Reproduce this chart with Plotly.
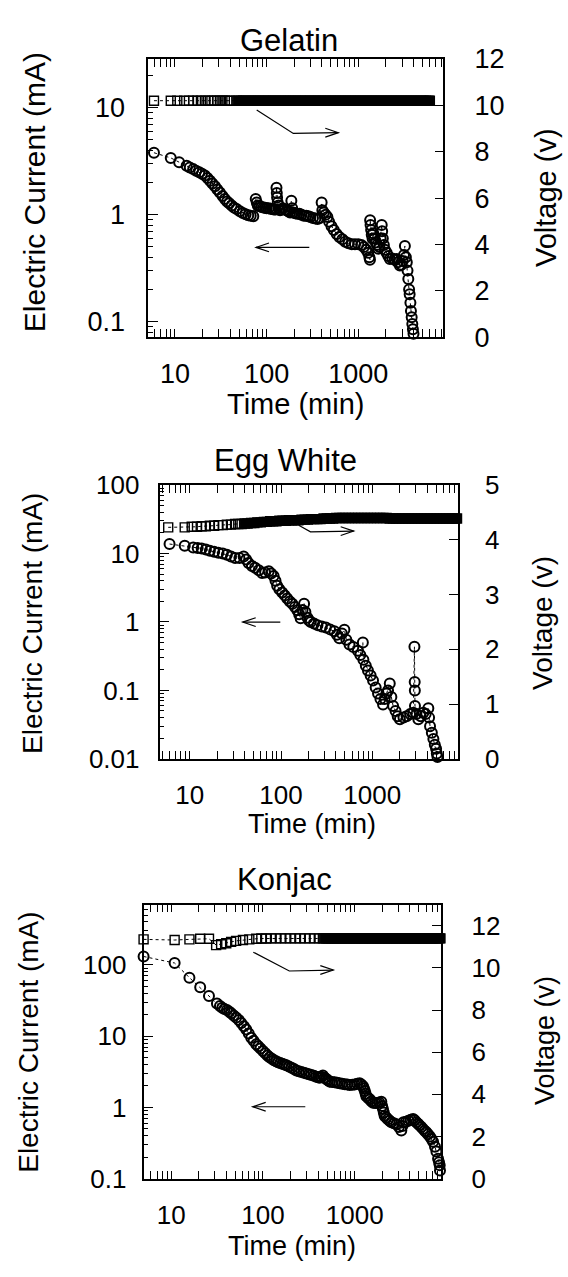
import math
import plotly.graph_objects as go

W, H = 568, 1277
FONT = "Liberation Sans, Arial, Helvetica, sans-serif"

# ---------------- data : Gelatin ----------------
gel_time_I = [5.9, 9.0, 11.1, 13.4, 14.5, 15.8, 17, 18.4, 19.7, 21.2, 22.6, 24.1, 25.6, 27.3, 29, 30.9,
              33, 35, 37, 39, 41.5, 44, 47, 51, 55, 59, 63, 67, 71.5, 76, 78, 80, 84, 88, 92, 96, 100,
              105, 110, 115, 120, 125, 128, 129, 130, 132, 135, 140, 145, 150, 158, 165, 172, 180, 186,
              190, 195, 205, 215, 228, 240, 255, 270, 285, 300, 320, 340, 360, 380, 398, 405, 420, 440,
              460, 480, 510, 540, 580, 620, 670, 720, 780, 850, 920, 1000, 1080, 1150, 1220, 1280, 1320,
              1340, 1345, 1360, 1380, 1400, 1430, 1455, 1500, 1550, 1600, 1650, 1700, 1750, 1800, 1820,
              1850, 1900, 1950, 2040, 2120, 2210, 2350, 2500, 2620, 2700, 2840, 2950, 3050, 3150, 3220,
              3300, 3380, 3440, 3510, 3580, 3630, 3700, 3750, 3820, 3880, 3940, 4000]
gel_current = [3.8, 3.4, 3.1, 2.87, 2.77, 2.67, 2.58, 2.5, 2.42, 2.33, 2.2, 2.08, 1.96, 1.85, 1.72, 1.61,
               1.5, 1.4, 1.33, 1.28, 1.22, 1.17, 1.13, 1.08, 1.04, 1.01, 0.99, 0.98, 0.97, 1.4, 1.3, 1.22,
               1.2, 1.18, 1.17, 1.16, 1.15, 1.15, 1.14, 1.13, 1.12, 1.12, 1.79, 1.6, 1.45, 1.3, 1.22, 1.1,
               1.12, 1.15, 1.12, 1.1, 1.08, 1.05, 1.35, 1.15, 1.05, 1.03, 1.02, 1.02, 1.0, 0.98, 0.98,
               0.97, 0.95, 0.93, 0.92, 0.91, 0.93, 1.3, 1.1, 1.05, 1.0, 0.95, 0.86, 0.78, 0.72, 0.66,
               0.62, 0.59, 0.56, 0.54, 0.53, 0.53, 0.53, 0.52, 0.5, 0.47, 0.44, 0.4, 0.38, 0.89, 0.8,
               0.72, 0.65, 0.6, 0.67, 0.6, 0.55, 0.52, 0.48, 0.5, 0.6, 0.8, 0.7, 0.6, 0.52, 0.47, 0.44,
               0.41, 0.385, 0.39, 0.38, 0.385, 0.36, 0.335, 0.34, 0.37, 0.42, 0.51, 0.4, 0.36, 0.3, 0.25,
               0.2, 0.18, 0.15, 0.126, 0.11, 0.095, 0.085, 0.077]
gel_time_V = [5.9, 9.0, 10.6, 12.6, 14.2, 15.8, 17.6, 19.2, 21.2, 23, 25, 27, 29, 30.9, 32.9, 35, 37.4,
              39.9, 47, 49, 52, 55.5, 59, 63, 67, 71.5, 76, 81, 86, 92, 98, 104, 111, 118, 126, 134, 143,
              152, 162, 172, 183, 195, 208, 221, 236, 251, 267, 285, 303, 323, 344, 366, 390, 415, 442,
              471, 502, 534, 569, 606, 645, 687, 732, 779, 830, 884, 941, 1002, 1067, 1137, 1211, 1289,
              1373, 1462, 1557, 1658, 1766, 1881, 2003, 2133, 2272, 2419, 2576, 2744, 2922, 3112, 3314,
              3529, 3758, 4003, 4263, 4540, 4835, 5149, 5484, 5840, 6030]
gel_voltage = [10.2, 10.2, 10.2, 10.2, 10.2, 10.2, 10.2, 10.2, 10.2, 10.2,
               10.2, 10.2, 10.2, 10.2, 10.2, 10.2, 10.2, 10.2, 10.2, 10.2,
               10.2, 10.2, 10.2, 10.2, 10.2, 10.2, 10.2, 10.2, 10.2, 10.2,
               10.2, 10.2, 10.2, 10.2, 10.2, 10.2, 10.2, 10.2, 10.2, 10.2,
               10.2, 10.2, 10.2, 10.2, 10.2, 10.2, 10.2, 10.2, 10.2, 10.2,
               10.2, 10.2, 10.2, 10.2, 10.2, 10.2, 10.2, 10.2, 10.2, 10.2,
               10.2, 10.2, 10.2, 10.2, 10.2, 10.2, 10.2, 10.2, 10.2, 10.2,
               10.2, 10.2, 10.2, 10.2, 10.2, 10.2, 10.2, 10.2, 10.2, 10.2,
               10.2, 10.2, 10.2, 10.2, 10.2, 10.2, 10.2, 10.2, 10.2, 10.2,
               10.2, 10.2, 10.2, 10.2, 10.2, 10.2, 10.2]

# ---------------- data : Egg White ----------------
egg_time_I = [6.0, 8.8, 10.9, 12.2, 13.5, 15, 16.6, 18.5, 20.6, 23, 25.5, 28.3, 31.4, 35, 38.9, 41.5,
              44, 48, 52, 57, 62, 67, 73.4, 78, 83, 87, 90.7, 96, 103, 110, 117, 125, 133, 142, 151,
              158, 164, 172, 179, 185, 195, 203, 212, 230, 251, 280, 310, 345, 384, 410, 436, 465, 495,
              520, 563, 620, 695, 740, 789, 800, 850, 897, 960, 1020, 1090, 1157, 1230, 1313, 1370,
              1429, 1490, 1556, 1620, 1694, 1800, 1900, 2010, 2200, 2380, 2600, 2820, 2900, 2920, 2930,
              2940, 3050, 3200, 3400, 3630, 3850, 4120, 4200, 4300, 4500, 4680, 4850, 5010, 5100, 5190]
egg_current = [13.8, 13.0, 12.3, 12.1, 11.9, 11.5, 11.0, 10.6, 10.3, 10.0, 9.6, 9.1, 8.6, 8.6, 9.1, 8.2,
               7.3, 6.6, 6.2, 5.7, 5.2, 5.3, 5.5, 5.1, 4.7, 4.0, 3.4, 3.0, 2.7, 2.45, 2.2, 2.0, 1.85,
               1.65, 1.48, 1.3, 1.13, 1.5, 1.85, 1.4, 1.15, 1.05, 1.0, 0.95, 0.9, 0.86, 0.83, 0.78, 0.73,
               0.65, 0.58, 0.68, 0.77, 0.55, 0.47, 0.43, 0.38, 0.33, 0.5, 0.28, 0.23, 0.195, 0.165, 0.14,
               0.11, 0.09, 0.075, 0.062, 0.075, 0.09, 0.1, 0.126, 0.08, 0.059, 0.05, 0.042, 0.038, 0.04,
               0.042, 0.045, 0.047, 0.435, 0.133, 0.1, 0.059, 0.045, 0.038, 0.042, 0.047, 0.045, 0.055,
               0.04, 0.03, 0.024, 0.0195, 0.016, 0.014, 0.012, 0.0106]
egg_time_V = [5.8, 8.8, 10.5, 12, 13.5, 15, 16.6, 18.5, 20.6, 23, 25.5, 28.3, 31.4, 34, 37, 40, 43, 47,
              51, 55, 60, 65, 70, 76, 82, 89, 96, 104, 113, 122, 132, 143, 155, 168, 182, 197, 213, 231,
              250, 271, 293, 317, 343, 372, 403, 436, 472, 511, 553, 599, 648, 702, 760, 823, 891, 965,
              1045, 1131, 1225, 1326, 1436, 1555, 1683, 1822, 1973, 2136, 2313, 2504, 2711, 2935, 3178,
              3441, 3725, 4033, 4367, 4728, 5119, 5542, 6000, 6500, 7040, 7620, 8100, 8500]
egg_voltage = [4.23, 4.23, 4.24, 4.24, 4.25, 4.25, 4.26, 4.26, 4.27, 4.27, 4.28, 4.28, 4.29, 4.29, 4.29, 4.30,
               4.30, 4.31, 4.31, 4.32, 4.32, 4.33, 4.33, 4.34, 4.34, 4.34, 4.35, 4.35, 4.35, 4.36, 4.36, 4.36,
               4.36, 4.37, 4.37, 4.37, 4.38, 4.38, 4.38, 4.38, 4.39, 4.39, 4.39, 4.39, 4.40, 4.40, 4.40, 4.40,
               4.40, 4.40, 4.40,
               4.40, 4.40, 4.40, 4.40, 4.40, 4.40, 4.40, 4.40, 4.40, 4.40,
               4.39, 4.39, 4.39, 4.39, 4.39, 4.39, 4.39, 4.39, 4.39, 4.39, 4.39, 4.39,
               4.39, 4.39, 4.39, 4.39, 4.39, 4.39, 4.39, 4.39, 4.39, 4.39, 4.39]

# ---------------- data : Konjac ----------------
kon_time_I = [5.0, 10.9, 15.8, 20.7, 25.8, 31.5, 34, 36, 38, 40.5, 43, 45, 48, 51, 54.5, 58, 62, 65.8,
              70, 74.5, 79, 84.5, 89, 94, 100, 106, 112, 118, 125, 132, 139, 146, 154, 162, 171, 180,
              192, 205, 218, 231, 246, 262, 279, 297, 317, 337, 359, 381, 400, 415, 432, 450, 470, 490,
              511, 532, 567, 605, 643, 684, 730, 780, 830, 880, 940, 1000, 1065, 1132, 1180, 1232, 1260,
              1290, 1315, 1340, 1400, 1460, 1520, 1585, 1670, 1760, 1850, 1950, 1990, 2030, 2075, 2120,
              2210, 2300, 2400, 2510, 2670, 2850, 3030, 3220, 3310, 3400, 3620, 3850, 4080, 4330, 4500,
              4700, 4900, 5100, 5320, 5550, 5790, 6040, 6300, 6600, 6870, 7150, 7500, 7770, 8100, 8300,
              8440, 8500]
kon_current = [131, 106, 66, 48.4, 36.5, 28.6, 26.5, 25, 24, 23.2, 22, 20.9, 19.5, 18.2, 16.8, 15.3, 13.8,
               12.4, 10.9, 9.5, 8.6, 7.7, 7.2, 6.7, 6.2, 5.75, 5.35, 5.06, 4.8, 4.6, 4.45, 4.3, 4.2, 4.1,
               4.0, 3.9, 3.75, 3.6, 3.45, 3.3, 3.22, 3.15, 3.07, 3.0, 2.92, 2.85, 2.77, 2.7, 2.65, 2.6,
               2.7, 2.8, 2.6, 2.5, 2.4, 2.3, 2.27, 2.25, 2.22, 2.18, 2.15, 2.12, 2.09, 2.07, 2.08, 2.1,
               2.14, 2.18, 2.1, 1.98, 1.85, 1.7, 1.55, 1.43, 1.36, 1.3, 1.22, 1.16, 1.15, 1.15, 1.17, 1.2,
               1.05, 0.95, 0.85, 0.76, 0.72, 0.68, 0.65, 0.62, 0.6, 0.58, 0.53, 0.475, 0.55, 0.62, 0.63,
               0.65, 0.67, 0.69, 0.66, 0.62, 0.59, 0.56, 0.53, 0.5, 0.47, 0.45, 0.42, 0.39, 0.36, 0.33,
               0.28, 0.24, 0.19, 0.17, 0.155, 0.13]
kon_time_V = [5.0, 10.9, 15.8, 20.7, 25.8, 30.9, 35, 39.8, 45, 51, 60.5, 71, 84.5, 96, 108, 122, 138,
              156, 176, 199, 225, 254, 287, 324, 366, 414, 450,
              470, 490, 510, 530, 552, 575, 598, 622, 648, 674, 702,
              730, 760, 791, 823, 857, 892, 928, 966, 1005, 1046, 1089, 1133, 1180, 1228, 1278, 1330,
              1384, 1441, 1500, 1561, 1625, 1691, 1760, 1832, 1907, 1985, 2066, 2150, 2238, 2330, 2425,
              2524, 2627, 2734, 2846, 2962, 3083, 3209, 3340, 3476, 3618, 3766, 3920, 4080, 4247, 4420,
              4601, 4789, 4984, 5188, 5400, 5620, 5850, 6089, 6338, 6597, 6866, 7147, 7439, 7742, 8058,
              8387, 8600]
kon_voltage = [11.35, 11.32, 11.35, 11.38, 11.38, 11.08, 11.12, 11.17, 11.23, 11.28, 11.32, 11.35, 11.38,
               11.39, 11.39,
               11.4, 11.4, 11.4, 11.4, 11.4, 11.4, 11.4, 11.4, 11.4, 11.4, 11.4, 11.4,
               11.4, 11.4, 11.4, 11.4, 11.4, 11.4, 11.4, 11.4, 11.4, 11.4,
               11.4, 11.4, 11.4, 11.4, 11.4, 11.4, 11.4, 11.4, 11.4, 11.4,
               11.4, 11.4, 11.4, 11.4, 11.4, 11.4, 11.4, 11.4, 11.4, 11.4,
               11.4, 11.4, 11.4, 11.4, 11.4, 11.4, 11.4, 11.4, 11.4, 11.4,
               11.4, 11.4, 11.4, 11.4, 11.4, 11.4, 11.4, 11.4, 11.4, 11.4,
               11.4, 11.4, 11.4, 11.4, 11.4, 11.4, 11.4, 11.4, 11.4, 11.4,
               11.4, 11.4, 11.4, 11.4, 11.4, 11.4, 11.4, 11.4, 11.4, 11.4,
               11.4, 11.4, 11.4, 11.4]

# ---------------- tick labels ----------------
time_ticks = [10, 100, 1000]
gel_I_ticks = [0.1, 1, 10]
gel_V_ticks = [0, 2, 4, 6, 8, 10, 12]
egg_I_ticks = [0.01, 0.1, 1, 10, 100]
egg_V_ticks = [0, 1, 2, 3, 4, 5]
kon_I_ticks = [0.1, 1, 10, 100]
kon_V_ticks = [0, 2, 4, 6, 8, 10, 12]

titles = ["Gelatin", "Egg White", "Konjac"]

# ---------------- layout geometry (pixels) ----------------
panels = [
    dict(name=titles[0], t_I=gel_time_I, I=gel_current, t_V=gel_time_V, V=gel_voltage,
         Iticks=gel_I_ticks, Vticks=gel_V_ticks, solid_from=48,
         box=(148.3, 443.3, 45.0, 330.0), xr=(0.709, 3.927), yl=(-1.146, 1.457), yr=(0, 12),
         fs_tick=27, fs_title=31, fs_ax=30, fs_v=29,
         title_xy=(289, 26), ylab_xy=(34.4, 181), vlab_xy=(546, 187.5), xlab_xy=(295, 398),
         so_l=16, so_r=24, so_b=12,
         arrowR=[(256.7, 97.3), (293.3, 121.3), (338.3, 120.5)],
         arrowL=[(309.3, 238), (256, 238)]),
    dict(name=titles[1], t_I=egg_time_I, I=egg_current, t_V=egg_time_V, V=egg_voltage,
         Iticks=egg_I_ticks, Vticks=egg_V_ticks, solid_from=39,
         box=(159.5, 458.0, 481.5, 761.7), xr=(0.668, 3.94), yl=(-2, 2), yr=(0, 5),
         fs_tick=26, fs_title=31, fs_ax=28, fs_v=28,
         title_xy=(285, 456), ylab_xy=(32.6, 623), vlab_xy=(543, 622.5), xlab_xy=(312, 828),
         so_l=13, so_r=20, so_b=12,
         arrowR=[(298.7, 522.5), (310.5, 529.3), (353.7, 528.5)],
         arrowL=[(280.3, 621.7), (242.7, 621.7)]),
    dict(name=titles[2], t_I=kon_time_I, I=kon_current, t_V=kon_time_V, V=kon_voltage,
         Iticks=kon_I_ticks, Vticks=kon_V_ticks, solid_from=465,
         box=(143.5, 440.5, 911.0, 1191.7), xr=(0.698, 3.935), yl=(-1, 2.845), yr=(0, 13),
         fs_tick=26, fs_title=31, fs_ax=28, fs_v=27,
         title_xy=(284, 885), ylab_xy=(29, 1052.5), vlab_xy=(545, 1050.8), xlab_xy=(292, 1261),
         so_l=10, so_r=24, so_b=12,
         arrowR=[(253.3, 959.7), (289.3, 979), (333.3, 978)],
         arrowL=[(305.3, 1118), (252.7, 1118)]),
]


def fx(x):
    return x / W


def fy(y):
    return 1 - y / H


def minor_vals(lo, hi):
    out = []
    for e in range(int(math.floor(lo)) - 1, int(math.ceil(hi)) + 1):
        for m in range(2, 10):
            v = m * 10.0 ** e
            if lo <= math.log10(v) <= hi:
                out.append(v)
    return out


def fmt(v):
    return "%g" % v


fig = go.Figure()
layout = dict(width=W, height=H, margin=dict(l=0, r=0, t=0, b=0),
              paper_bgcolor="white", plot_bgcolor="white", showlegend=False,
              font=dict(family=FONT, color="black"))
annotations = []
shapes = []
LW = 1.2

for i, p in enumerate(panels):
    n = i + 1
    xa = "xaxis" if n == 1 else "xaxis%d" % n
    xs = "x" if n == 1 else "x%d" % n
    yl_id = 2 * n - 1
    yr_id = 2 * n
    yla = "yaxis" if yl_id == 1 else "yaxis%d" % yl_id
    yls = "y" if yl_id == 1 else "y%d" % yl_id
    yra = "yaxis%d" % yr_id
    yrs = "y%d" % yr_id
    x0, x1, y0, y1 = p["box"]
    xdom = [fx(x0), fx(x1)]
    ydom = [fy(y1), fy(y0)]
    tf = dict(family=FONT, size=p["fs_tick"], color="black")

    layout[xa] = dict(type="log", domain=xdom, range=list(p["xr"]), anchor=yls,
                      tickmode="array", tickvals=time_ticks, ticktext=[fmt(v) for v in time_ticks],
                      ticks="inside", ticklen=8, tickwidth=1.3, tickcolor="black",
                      minor=dict(tickmode="array", tickvals=minor_vals(*p["xr"]), ticks="inside",
                                 ticklen=4, tickwidth=1.1, tickcolor="black", showgrid=False),
                      showline=True, linecolor="black", linewidth=1.6, mirror="allticks",
                      showgrid=False, zeroline=False, tickfont=tf, ticklabelstandoff=p["so_b"])
    layout[yla] = dict(type="log", domain=ydom, range=list(p["yl"]), anchor=xs,
                       tickmode="array", tickvals=p["Iticks"], ticktext=[fmt(v) for v in p["Iticks"]],
                       ticks="inside", ticklen=10, tickwidth=1.3, tickcolor="black",
                       minor=dict(tickmode="array", tickvals=minor_vals(*p["yl"]), ticks="inside",
                                  ticklen=5, tickwidth=1.1, tickcolor="black", showgrid=False),
                       showline=True, linecolor="black", linewidth=1.6, mirror=False,
                       showgrid=False, zeroline=False, tickfont=tf, ticklabelstandoff=p["so_l"])
    layout[yra] = dict(domain=ydom, range=list(p["yr"]), anchor=xs, overlaying=yls, side="right",
                       tickmode="array", tickvals=p["Vticks"], ticktext=[fmt(v) for v in p["Vticks"]],
                       ticks="inside", ticklen=9, tickwidth=1.3, tickcolor="black",
                       showline=True, linecolor="black", linewidth=1.6,
                       showgrid=False, zeroline=False, tickfont=tf, ticklabelstandoff=p["so_r"])

    # where the logged voltage points crowd into a solid band, draw them filled
    sq_symbols = ["square" if t >= p["solid_from"] else "square-open" for t in p["t_V"]]
    fig.add_trace(go.Scatter(x=p["t_V"], y=p["V"], xaxis=xs, yaxis=yrs, mode="lines+markers",
                             line=dict(color="black", width=1, dash="dot"),
                             marker=dict(symbol=sq_symbols, size=9, color="black",
                                         line=dict(width=1.4, color="black")),
                             cliponaxis=False, name=p["name"] + " voltage"))
    fig.add_trace(go.Scatter(x=p["t_I"], y=p["I"], xaxis=xs, yaxis=yls, mode="lines+markers",
                             line=dict(color="black", width=1, dash="dot"),
                             marker=dict(symbol="circle-open", size=10, color="black",
                                         line=dict(width=2.0)),
                             cliponaxis=False, name=p["name"] + " current"))

    # texts
    tx, ty = p["title_xy"]
    annotations.append(dict(text=p["name"], x=fx(tx), y=fy(ty), xref="paper", yref="paper",
                            showarrow=False, xanchor="center", yanchor="middle",
                            font=dict(family=FONT, size=p["fs_title"], color="black")))
    lx, ly = p["ylab_xy"]
    annotations.append(dict(text="Electric Current (mA)", x=fx(lx), y=fy(ly), xref="paper",
                            yref="paper", showarrow=False, textangle=-90, xanchor="center",
                            yanchor="middle", font=dict(family=FONT, size=p["fs_ax"], color="black")))
    vx, vy = p["vlab_xy"]
    annotations.append(dict(text="Voltage (v)", x=fx(vx), y=fy(vy), xref="paper", yref="paper",
                            showarrow=False, textangle=-90, xanchor="center", yanchor="middle",
                            font=dict(family=FONT, size=p["fs_v"], color="black")))
    bx, by = p["xlab_xy"]
    annotations.append(dict(text="Time (min)", x=fx(bx), y=fy(by), xref="paper", yref="paper",
                            showarrow=False, xanchor="center", yanchor="middle",
                            font=dict(family=FONT, size=p["fs_ax"] - 1, color="black")))

    # arrows (decorations)
    pts = p["arrowR"]
    path = "M " + " L ".join("%.5f,%.5f" % (fx(a), fy(b)) for a, b in pts)
    shapes.append(dict(type="path", path=path, xref="paper", yref="paper",
                       line=dict(color="black", width=LW)))
    tipx, tipy = pts[-1]
    head = "M %.5f,%.5f L %.5f,%.5f L %.5f,%.5f" % (fx(tipx - 13), fy(tipy - 4.5), fx(tipx), fy(tipy),
                                                 fx(tipx - 13), fy(tipy + 4.5))
    shapes.append(dict(type="path", path=head, xref="paper", yref="paper",
                       line=dict(color="black", width=LW)))
    (ax0, ay0), (ax1, ay1) = p["arrowL"]
    shapes.append(dict(type="path", path="M %.5f,%.5f L %.5f,%.5f" % (fx(ax0), fy(ay0), fx(ax1), fy(ay1)),
                       xref="paper", yref="paper", line=dict(color="black", width=LW)))
    head = "M %.5f,%.5f L %.5f,%.5f L %.5f,%.5f" % (fx(ax1 + 13), fy(ay1 - 4.5), fx(ax1), fy(ay1),
                                                 fx(ax1 + 13), fy(ay1 + 4.5))
    shapes.append(dict(type="path", path=head, xref="paper", yref="paper",
                       line=dict(color="black", width=LW)))

layout["annotations"] = annotations
layout["shapes"] = shapes
fig.update_layout(**layout)
fig.write_html("out.html", config={"displayModeBar": False},
               post_script="document.body.style.margin='0px';document.body.style.overflow='hidden';")
